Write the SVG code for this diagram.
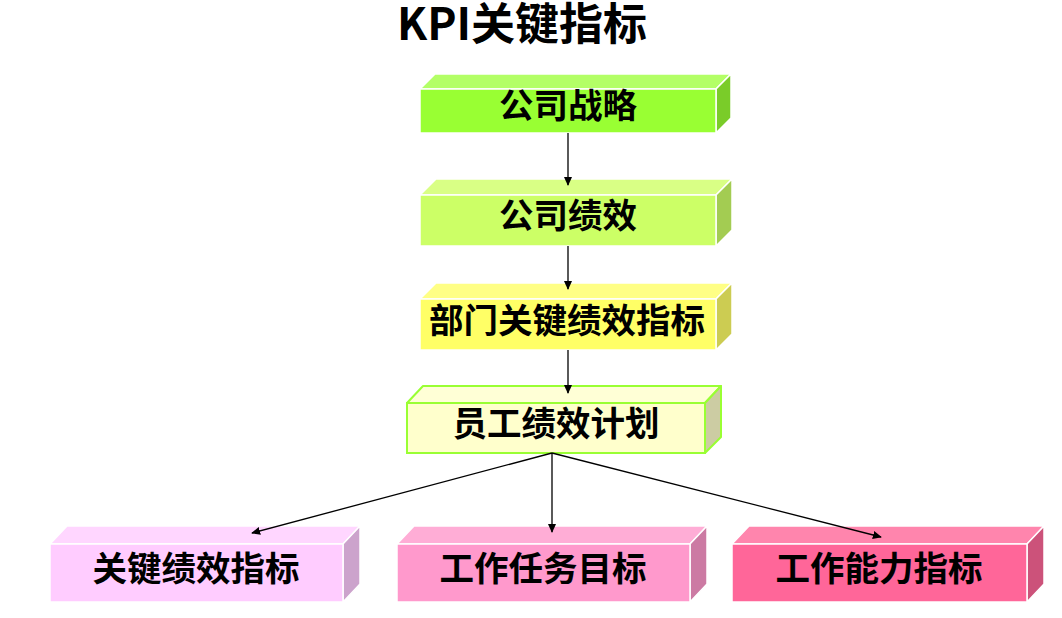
<svg xmlns="http://www.w3.org/2000/svg" width="1062" height="618" viewBox="0 0 1062 618">
<style>
.face{stroke:#ffffff;stroke-width:1.5;stroke-linejoin:round}
.lbl{font-family:"Noto Sans CJK SC","Liberation Sans",sans-serif;font-weight:bold;font-size:34.5px;fill:#000;text-anchor:middle}
.title{font-family:"Noto Sans CJK SC","Liberation Sans",sans-serif;font-weight:bold;font-size:44px;fill:#000;text-anchor:middle}
.conn{stroke:#000;stroke-width:1.3;fill:none}
</style>
<defs>
<marker id="arr" viewBox="0 0 10 10" refX="9" refY="5" markerWidth="9" markerHeight="9" markerUnits="userSpaceOnUse" orient="auto">
<path d="M0,0.5 L10,5 L0,9.5 Z" fill="#000"/>
</marker>
</defs>
<rect width="1062" height="618" fill="#ffffff"/>
<text class="title" x="522" y="40">KPI关键指标</text>

<g id="node-strategy">
<polygon class="face" points="420,89 435,74 731,74 716,89" fill="#B3FF66"/>
<polygon class="face" points="716,89 731,74 731,118 716,133" fill="#7ACC29"/>
<rect class="face" x="420" y="89" width="296" height="44" fill="#99FF33"/>
<text class="lbl" x="568" y="118">公司战略</text>
</g>
<g id="node-perf">
<polygon class="face" points="420,195 436,179 732,179 716,195" fill="#D9FF85"/>
<polygon class="face" points="716,195 732,179 732,230 716,246" fill="#A3CC52"/>
<rect class="face" x="420" y="195" width="296" height="51" fill="#CCFF66"/>
<text class="lbl" x="568" y="228">公司绩效</text>
</g>
<g id="node-dept">
<polygon class="face" points="420,299 436,283 732,283 716,299" fill="#FFFF85"/>
<polygon class="face" points="716,299 732,283 732,334 716,350" fill="#CCCC52"/>
<rect class="face" x="420" y="299" width="296" height="51" fill="#FFFF66"/>
<text class="lbl" x="567" y="333">部门关键绩效指标</text>
</g>
<g id="node-emp">
<polygon points="407,403 423,386 721,386 705,403" fill="#FFFFD6" stroke="#99FF33" stroke-width="2" stroke-linejoin="round"/>
<polygon points="705,403 721,386 721,437 705,453" fill="#CCCCA3" stroke="#99FF33" stroke-width="2" stroke-linejoin="round"/>
<rect x="407" y="403" width="298" height="50" fill="#FFFFCC" stroke="#99FF33" stroke-width="2"/>
<text class="lbl" x="556" y="436">员工绩效计划</text>
</g>
<g id="node-kpi">
<polygon class="face" points="50,544 67,526 360,526 343,544" fill="#FFD6FF"/>
<polygon class="face" points="343,544 360,526 360,584 343,602" fill="#CCA3CC"/>
<rect class="face" x="50" y="544" width="293" height="58" fill="#FFCCFF"/>
<text class="lbl" x="196" y="581">关键绩效指标</text>
</g>
<g id="node-task">
<polygon class="face" points="397,544 414,526 707,526 690,544" fill="#FFADD6"/>
<polygon class="face" points="690,544 707,526 707,584 690,602" fill="#CC7AA3"/>
<rect class="face" x="397" y="544" width="293" height="58" fill="#FF99CC"/>
<text class="lbl" x="543" y="581">工作任务目标</text>
</g>
<g id="node-ability">
<polygon class="face" points="732,544 749,526 1044,526 1027,544" fill="#FF85AD"/>
<polygon class="face" points="1027,544 1044,526 1044,584 1027,602" fill="#CC527A"/>
<rect class="face" x="732" y="544" width="295" height="58" fill="#FF6699"/>
<text class="lbl" x="879" y="581">工作能力指标</text>
</g>

<g id="connectors">
<line class="conn" x1="568" y1="133" x2="568" y2="185" marker-end="url(#arr)"/>
<line class="conn" x1="568" y1="246" x2="568" y2="289" marker-end="url(#arr)"/>
<line class="conn" x1="568" y1="350" x2="568" y2="393" marker-end="url(#arr)"/>
<line class="conn" x1="552" y1="453" x2="252" y2="533" marker-end="url(#arr)"/>
<line class="conn" x1="552" y1="453" x2="552" y2="532" marker-end="url(#arr)"/>
<line class="conn" x1="552" y1="453" x2="881" y2="537" marker-end="url(#arr)"/>
</g>
</svg>
